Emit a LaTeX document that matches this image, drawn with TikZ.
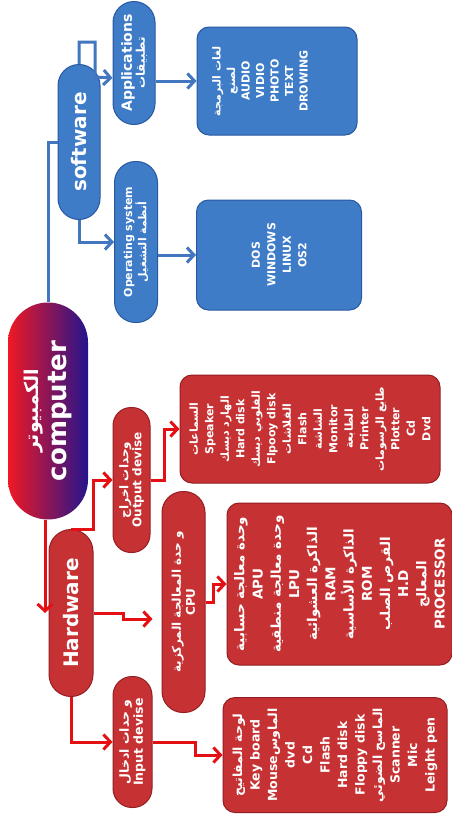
\documentclass[tikz,border=0pt]{standalone}
\usepackage{fontspec}
\setmainfont{DejaVu Sans}
\newfontfamily\arabicfont[Script=Arabic]{DejaVu Sans}
\TeXXeTstate=1
\usepackage{tikz}
\usetikzlibrary{arrows.meta,calc}
\definecolor{PCBlue}{RGB}{62,124,200}
\definecolor{PCBlueEdge}{RGB}{40,88,160}
\definecolor{PCRed}{RGB}{198,50,52}
\definecolor{PCRedEdge}{RGB}{150,30,34}
\definecolor{PCLineBlue}{RGB}{66,118,190}
\definecolor{PCLineRed}{RGB}{228,16,20}
\definecolor{PCWarm}{RGB}{240,24,36}
\definecolor{PCMid}{RGB}{160,8,128}
\definecolor{PCCold}{RGB}{36,20,140}
\newcommand\artxt[1]{{\arabicfont\beginR #1\endR}}

\begin{document}
\begin{tikzpicture}[x=1pt, y=-1pt,
    pill/.style={rotate=90, text=white, align=center, inner sep=2pt, line width=1pt},
    bluepill/.style={pill, draw=PCBlueEdge, fill=PCBlue},
    redpill/.style={pill, draw=PCRedEdge, fill=PCRed},
    bluebox/.style={rotate=90, rounded corners=12pt, draw=PCBlueEdge, fill=PCBlue, line width=1pt, text=white, align=center, font=\fontsize{11}{15.5}\selectfont\bfseries},
    redbox/.style={rotate=90, rounded corners=12pt, draw=PCRedEdge, fill=PCRed, line width=1pt, text=white, align=center},
    boxtext/.style={rotate=90, text=white, align=center, font=\fontsize{11}{14.5}\selectfont\bfseries},
    blueline/.style={line width=3pt, draw=PCLineBlue},
    bluearrow/.style={blueline, -{Straight Barb[length=7pt,width=15pt]}},
    redarrow/.style={line width=3pt, draw=PCLineRed, -{Straight Barb[length=7pt,width=15pt]}}
  ]
    \fill[white] (0,0) rectangle (452,830);
    \useasboundingbox (0,0) rectangle (452,830);

    % centre
    \node[pill, left color=PCWarm, middle color=PCMid, right color=PCCold, minimum width=217pt, minimum height=80pt, rounded corners=40pt, font=\fontsize{26}{28}\selectfont\bfseries] (computer) at (48,411) {{\fontsize{19}{22}\selectfont\artxt{الكمبيوتر}}\\ computer};

    % software side
    \node[bluepill, minimum width=155pt, minimum height=42pt, rounded corners=21pt, font=\fontsize{20}{22}\selectfont\bfseries] (software) at (79,142) {software};
    \node[bluepill, minimum width=123pt, minimum height=42pt, rounded corners=21pt, font=\fontsize{14}{13}\selectfont\bfseries] (apps) at (134,63) {Applications\\ {\fontsize{12}{13}\selectfont\artxt{تطبيقات}}};
    \node[bluepill, minimum width=161pt, minimum height=43pt, rounded corners=21pt, font=\fontsize{11}{13}\selectfont\bfseries] (os) at (136,242) {Operating system\\ \artxt{أنظمة التشغيل}};
    \node[bluebox, minimum width=108pt, minimum height=160pt] (appbox) at (277,81) {};
    \node[boxtext] (applist) at (260,81) {\artxt{لغات البرمجة}\\ \artxt{لصنع}\\ AUDIO\\ VIDIO\\ PHOTO\\ TEXT\\ DROWING};
    \node[bluebox, minimum width=110pt, minimum height=165pt] (osbox) at (279,255) {DOS\\ WINDOWS\\ LINUX\\ OS2};

    % hardware side
    \node[redpill, minimum width=167pt, minimum height=44pt, rounded corners=22pt, font=\fontsize{20}{22}\selectfont\bfseries] (hardware) at (71,613) {Hardware};
    \node[redpill, minimum width=145pt, minimum height=37pt, rounded corners=18pt, font=\fontsize{12}{13}\selectfont\bfseries] (output) at (131.5,480) {\artxt{وحدات اخراج}\\ Output devise};
    \node[redpill, minimum width=221pt, minimum height=43pt, rounded corners=21pt, font=\fontsize{12}{14}\selectfont\bfseries] (cpu) at (183.5,602) {\artxt{و حدة المعالجة المركزية}\\ CPU};
    \node[redpill, minimum width=131pt, minimum height=39pt, rounded corners=19pt, font=\fontsize{12.5}{14}\selectfont\bfseries] (input) at (132.5,742) {\artxt{و حدات ادخال}\\ Input devise};
    \node[redbox, minimum width=108pt, minimum height=260pt, font=\fontsize{11}{15.5}\selectfont\bfseries] (outbox) at (310,429) {\artxt{السماعات}\\ Speaker\\ \artxt{الهارد ديسك}\\ Hard disk\\ \artxt{الفلوبي ديسك}\\ Flpooy disk\\ \artxt{الفلاشات}\\ Flash\\ \artxt{الشاشة}\\ Monitor\\ \artxt{الطابعة}\\ Printer\\ \artxt{طابع الرسومات}\\ Plotter\\ Cd\\ Dvd};
    \node[redbox, minimum width=162pt, minimum height=225pt, font=\fontsize{13.5}{18.2}\selectfont\bfseries] (cpubox) at (339.5,584) {\artxt{وحدة معالجة حسابية}\\ APU\\ \artxt{وحدة معالجة منطقية}\\ LPU\\ \artxt{الذاكرة العشوائية}\\ RAM\\ \artxt{الذاكرة الأساسية}\\ ROM\\ \artxt{القرص الصلب}\\ H.D\\ \artxt{المعالج}\\ PROCESSOR};
    \node[redbox, minimum width=115pt, minimum height=224pt, font=\fontsize{12.5}{17.5}\selectfont\bfseries] (inbox) at (335,755) {\artxt{لوحة المفاتيح}\\ Key board\\ Mouse\artxt{الماوس}\\ dvd\\ Cd\\ Flash\\ Hard disk\\ Floppy disk\\ \artxt{الماسح الضوئي}\\ Scanner\\ Mic\\ Leight pen};

    % blue links
    \draw[blueline] (computer.east) |- (software.north);
    \draw[bluearrow] (software.east) -- ++(0,-22) -- ++(16,0) -- ++(0,35) -- (apps.north |- 0,78);
    \draw[bluearrow] (software.west) |- (os.north);
    \draw[bluearrow] (apps.south |- appbox.north) -- (appbox.north);
    \draw[bluearrow] (os.south |- osbox.north) -- (osbox.north);

    % red links
    \draw[redarrow] ([xshift=-3pt]computer.west) -- ([xshift=-3pt]computer.west |- hardware.north);
    \draw[redarrow] (hardware.east) -- ++(22,0) |- (output.north);
    \draw[redarrow, shorten >=9pt] (hardware.south) -- ++(30,0) |- (cpu.north |- 0,619);
    \draw[redarrow] (hardware.west) |- (input.north);
    \draw[redarrow] (output.south) -- ++(14,0) |- (outbox.north);
    \draw[redarrow] (cpu.south) -- ++(8,0) |- (cpubox.north);
    \draw[redarrow] (input.south) -- ++(43,0) |- (inbox.north);
\end{tikzpicture}
\end{document}
